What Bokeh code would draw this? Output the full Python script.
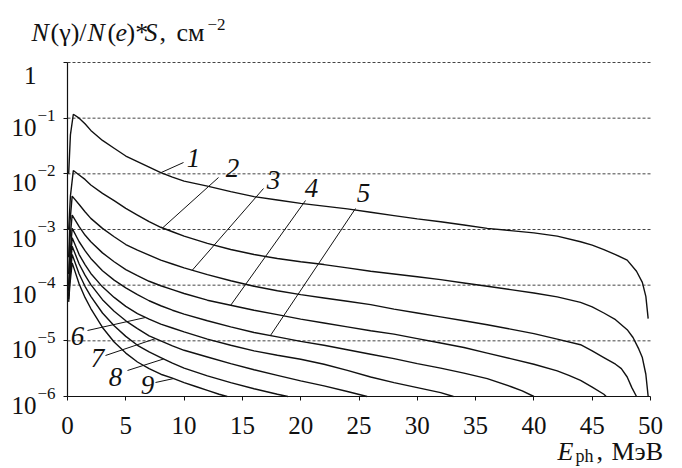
import numpy as np
from bokeh.plotting import figure
from bokeh.models import Label, FixedTicker, Range1d, ColumnDataSource, CustomJSTickFormatter
from bokeh.core.properties import value
from bokeh.embed import file_html
from bokeh.resources import INLINE

# ---------------- data (y as log10 of N(γ)/N(e)*S) ----------------
c1_x = [0.1, 0.25, 0.5, 1, 1.5, 2, 3, 4, 5, 6, 7, 8, 9, 10, 12, 14, 16, 18, 20, 22, 24, 26, 28, 30,
        32, 34, 36, 38, 40, 42, 44, 45, 46, 47, 48, 48.8, 49.3, 49.6, 49.8]
c1_lg = [-2.0, -1.3, -0.93, -1.0, -1.10, -1.22, -1.40, -1.54, -1.68, -1.78, -1.88, -1.98, -2.06, -2.13,
         -2.22, -2.32, -2.41, -2.47, -2.53, -2.58, -2.63, -2.69, -2.75, -2.81, -2.86, -2.92, -2.98,
         -3.02, -3.06, -3.12, -3.22, -3.28, -3.36, -3.45, -3.55, -3.75, -3.95, -4.2, -4.6]

c2_x = [0.1, 0.25, 0.5, 1, 1.5, 2, 3, 4, 5, 6, 7, 8, 9, 10, 12, 14, 16, 18, 20, 22, 24, 26, 28, 30,
        32, 34, 36, 38, 40, 42, 44, 45, 46, 47, 48, 48.5, 49, 49.3, 49.6, 49.8]
c2_lg = [-3.0, -2.4, -1.94, -2.02, -2.10, -2.20, -2.35, -2.48, -2.62, -2.74, -2.86, -2.96, -3.04, -3.12,
         -3.25, -3.36, -3.45, -3.52, -3.58, -3.63, -3.69, -3.75, -3.80, -3.85, -3.90, -3.96, -4.02,
         -4.08, -4.14, -4.21, -4.31, -4.39, -4.50, -4.62, -4.80, -4.94, -5.15, -5.30, -5.6, -6.0]

c3_x = [0.1, 0.2, 0.4, 1, 1.5, 2, 3, 4, 5, 6, 7, 8, 9, 10, 12, 14, 16, 18, 20, 22, 24, 26, 28, 30,
        32, 34, 36, 38, 40, 42, 44, 45, 46, 47, 47.5, 48, 48.4, 48.8]
c3_lg = [-3.5, -2.9, -2.40, -2.55, -2.68, -2.80, -2.98, -3.13, -3.27, -3.37, -3.46, -3.55, -3.62, -3.69,
         -3.81, -3.92, -4.02, -4.10, -4.17, -4.23, -4.29, -4.35, -4.43, -4.50, -4.57, -4.64, -4.71,
         -4.79, -4.87, -4.97, -5.07, -5.18, -5.30, -5.42, -5.50, -5.65, -5.84, -6.0]

c4_x = [0.1, 0.2, 0.4, 1, 1.5, 2, 3, 4, 5, 6, 7, 8, 9, 10, 12, 14, 16, 18, 20, 22, 24, 26, 28, 30,
        32, 34, 36, 38, 40, 42, 43, 44, 45, 46, 46.2]
c4_lg = [-3.8, -3.2, -2.74, -2.95, -3.10, -3.22, -3.42, -3.58, -3.72, -3.83, -3.93, -4.01, -4.08, -4.15,
         -4.27, -4.36, -4.45, -4.53, -4.61, -4.68, -4.75, -4.82, -4.88, -4.96, -5.04, -5.12, -5.22,
         -5.32, -5.42, -5.54, -5.62, -5.71, -5.83, -5.96, -6.0]

c5_x = [0.1, 0.2, 0.4, 1, 1.5, 2, 3, 4, 5, 6, 7, 8, 9, 10, 12, 14, 16, 18, 20, 22, 24, 26, 28, 30,
        32, 34, 36, 38, 39, 40.0]
c5_lg = [-4.0, -3.5, -2.98, -3.22, -3.38, -3.52, -3.74, -3.91, -4.05, -4.17, -4.28, -4.37, -4.45, -4.52,
         -4.64, -4.75, -4.85, -4.93, -5.01, -5.08, -5.16, -5.24, -5.32, -5.41, -5.49, -5.58, -5.68,
         -5.82, -5.90, -6.0]

c6_x = [0.1, 0.2, 0.4, 1, 1.5, 2, 3, 4, 5, 6, 7, 8, 9, 10, 12, 14, 16, 18, 20, 22, 24, 26, 28, 30,
        32, 33.1]
c6_lg = [-4.1, -3.7, -3.15, -3.45, -3.63, -3.79, -4.03, -4.22, -4.38, -4.51, -4.61, -4.70, -4.77, -4.84,
         -4.97, -5.08, -5.18, -5.26, -5.33, -5.42, -5.53, -5.65, -5.75, -5.84, -5.93, -6.0]

c7_x = [0.1, 0.2, 0.4, 1, 1.5, 2, 3, 4, 5, 6, 7, 8, 9, 10, 12, 14, 16, 18, 20, 22, 24, 25.7]
c7_lg = [-4.2, -3.8, -3.3, -3.62, -3.82, -3.99, -4.26, -4.47, -4.64, -4.78, -4.91, -5.00, -5.09, -5.17,
         -5.29, -5.41, -5.52, -5.62, -5.72, -5.81, -5.91, -6.0]

c8_x = [0.1, 0.2, 0.4, 1, 1.5, 2, 3, 4, 5, 6, 7, 8, 9, 10, 12, 14, 16, 18, 18.9]
c8_lg = [-4.25, -3.9, -3.45, -3.8, -4.02, -4.2, -4.5, -4.73, -4.92, -5.08, -5.20, -5.30, -5.40, -5.49,
         -5.63, -5.75, -5.86, -5.96, -6.0]

c9_x = [0.1, 0.2, 0.4, 1, 1.5, 2, 3, 4, 5, 6, 7, 8, 9, 10, 11, 12, 13, 13.7]
c9_lg = [-4.3, -4.0, -3.6, -3.98, -4.22, -4.42, -4.76, -5.02, -5.22, -5.38, -5.50, -5.60, -5.67, -5.75,
         -5.82, -5.89, -5.96, -6.0]

curve_names = ["1", "2", "3", "4", "5", "6", "7", "8", "9"]
curves_x = [c1_x, c2_x, c3_x, c4_x, c5_x, c6_x, c7_x, c8_x, c9_x]
curves_lg = [c1_lg, c2_lg, c3_lg, c4_lg, c5_lg, c6_lg, c7_lg, c8_lg, c9_lg]

x_ticks = [0, 5, 10, 15, 20, 25, 30, 35, 40, 45, 50]
y_ticks = [1e-6, 1e-5, 1e-4, 1e-3, 1e-2, 1e-1, 1]
y_tick_exp = ["−6", "−5", "−4", "−3", "−2", "−1", None]

# x (MeV) at which each numbered leader line touches its curve
leader_end_x = [8.0, 8.15, 10.7, 14.0, 17.4, 6.7, 7.55, 8.25, 9.1]

# ---------------- layout (page pixels; the canvas starts at the page corner) ----------------
W, H = 682, 468
FL, FR, FT, FB = 67, 650, 62, 396      # data area (x 0..50, y 1..1e-6) on the page
X0, X1 = 0, 50
LT, LB = 0, -6                         # log10 at data-area top / bottom


def px_x(px):
    return X0 + (px - FL) / (FR - FL) * (X1 - X0)


def px_y(py):
    return 10 ** (LT + (py - FT) / (FB - FT) * (LB - LT))


SERIF = "'Liberation Serif', 'Times New Roman', serif"
INK = "#111111"

# the frame fills the whole canvas; axes sit at fixed data locations
p = figure(width=W, height=H, output_backend="svg", toolbar_location=None,
           y_axis_type="log",
           x_range=Range1d(px_x(0), px_x(W)),
           y_range=Range1d(px_y(H), px_y(0)),
           min_border=0, min_border_left=0, min_border_right=0,
           min_border_top=0, min_border_bottom=0)
p.title.visible = False
p.outline_line_color = None
p.background_fill_color = "white"
p.border_fill_color = "white"
p.grid.visible = False

xa = p.xaxis[0]
ya = p.yaxis[0]
xa.fixed_location = 10 ** LB
ya.fixed_location = X0
xa.bounds = (X0, X1)
ya.bounds = (10 ** LB, 10 ** LT)
xa.ticker = FixedTicker(ticks=x_ticks)
ya.ticker = FixedTicker(ticks=y_ticks)
for ax in (xa, ya):
    ax.axis_line_color = INK
    ax.axis_line_width = 1.2
    ax.major_tick_line_color = INK
    ax.major_tick_line_width = 1
    ax.major_tick_in = 0
    ax.major_tick_out = 4
    ax.minor_tick_line_color = None
xa.major_label_text_font = SERIF
xa.major_label_text_font_size = "25px"
xa.major_label_text_color = INK
xa.major_label_standoff = 16
ya.formatter = CustomJSTickFormatter(code="return ''")

# dashed horizontal grid lines at the decades (the lowest one is the axis)
grid_y = [v for v in y_ticks if v > 10 ** LB]
p.segment(x0=[X0] * len(grid_y), y0=grid_y, x1=[X1] * len(grid_y), y1=grid_y,
          line_color="#444444", line_dash="3 2", line_width=1)

# curves
for xs, lg in zip(curves_x, curves_lg):
    p.line(xs, 10 ** np.array(lg), line_color=INK, line_width=1.4)

# leader lines and curve numbers
label_pos = [(193, 157), (232, 167), (273, 179), (311, 187), (363, 192),
             (77, 335), (97, 357), (115, 376), (147, 384)]
leader_start = [(183, 162), (218, 177), (263, 188), (305, 200), (355, 208),
                (87, 330), (105, 355), (127, 370), (155, 382)]
x0s, y0s, x1s, y1s = [], [], [], []
for (sx, sy), ex, xs, lg in zip(leader_start, leader_end_x, curves_x, curves_lg):
    x0s.append(px_x(sx))
    y0s.append(px_y(sy))
    x1s.append(ex)
    y1s.append(10 ** np.interp(ex, xs, lg))
p.segment(x0s, y0s, x1s, y1s, line_color=INK, line_width=1)

lab_src = ColumnDataSource(dict(x=[px_x(a) for a, b in label_pos],
                                y=[px_y(b) for a, b in label_pos],
                                t=curve_names))
p.text(x="x", y="y", text="t", source=lab_src, text_font=value(SERIF),
       text_font_style="italic", text_font_size="27px", text_align="center",
       text_baseline="middle", text_color=INK)

# y tick labels: "10" + superscript exponent
for v, e in zip(y_ticks, y_tick_exp):
    gy = FT + (np.log10(v) - LT) / (LB - LT) * (FB - FT)
    base = "1" if e is None else "10"
    p.add_layout(Label(x=px_x(36), y=px_y(gy + (13 if e is None else 9)), text=base,
                       text_font=SERIF, text_font_size="25px", text_align="right",
                       text_baseline="alphabetic", text_color=INK))
    if e is not None:
        p.add_layout(Label(x=px_x(37), y=px_y(gy - 3), text=e, text_font=SERIF,
                           text_font_size="17px", text_align="left",
                           text_baseline="alphabetic", text_color=INK))


# axis titles made of pieces (italic / upright / sub- and superscript)
def piece(txt, px, py, size="26px", style="normal"):
    p.add_layout(Label(x=px_x(px), y=px_y(py), text=txt, text_font=SERIF,
                       text_font_size=size, text_font_style=style, text_align="left",
                       text_baseline="alphabetic", text_color=INK))


TB = 32
piece("N", 31, TB, style="italic")
piece("(γ)/", 50, TB)
piece("N", 87, TB, style="italic")
piece("(", 107, TB)
piece("e", 115, TB, style="italic")
piece(")*", 126, TB)
piece("S", 144, TB, style="italic")
piece(",", 159, TB)
piece("см", 176, TB)
piece("−2", 207, TB - 8, size="17px")

XB = 451
piece("E", 557, XB, style="italic")
piece("ph", 575, XB + 4, size="18px")
piece(",", 596, XB)
piece("МэВ", 611, XB)

open("out.html", "w").write(file_html(p, INLINE))
